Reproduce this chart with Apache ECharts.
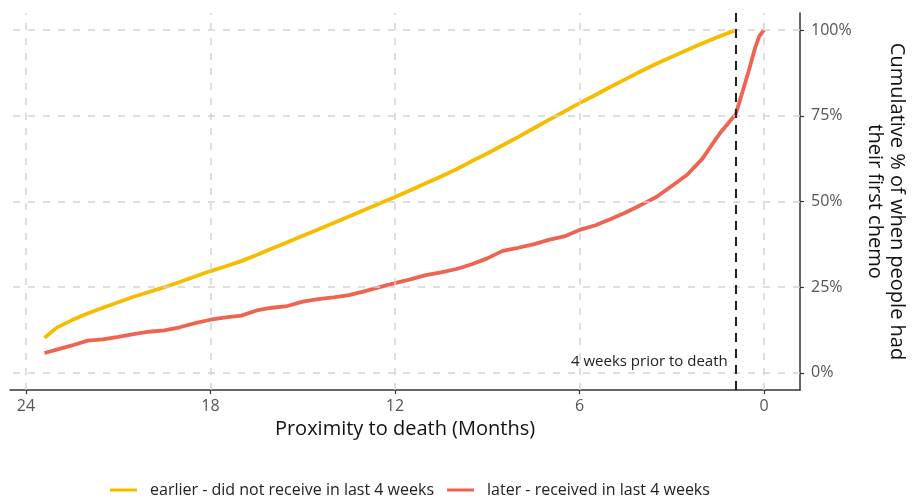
<!DOCTYPE html>
<html>
<head>
<meta charset="utf-8">
<script src="https://cdn.jsdelivr.net/npm/echarts@6/dist/echarts.min.js"></script>
<style>html,body{margin:0;padding:0;background:#fff}#c{width:912px;height:498px}</style>
</head>
<body>
<div id="c"></div>
<script>
var earlierMonths = [23.4,23.0,22.5,22.0,21.5,21.0,20.5,20.0,19.5,19.0,18.5,18.0,17.5,17.0,16.5,16.0,15.5,15.0,14.5,14.0,13.5,13.0,12.5,12.0,11.5,11.0,10.5,10.0,9.5,9.0,8.5,8.0,7.5,7.0,6.5,6.0,5.5,5.0,4.5,4.0,3.5,3.0,2.5,2.0,1.5,0.92];
var earlierPct = [10.2,13.2,15.4,17.3,19.0,20.6,22.2,23.6,25.0,26.5,28.1,29.7,31.1,32.6,34.4,36.3,38.1,40.0,41.8,43.7,45.6,47.5,49.4,51.3,53.3,55.3,57.3,59.4,61.8,64.0,66.4,68.8,71.3,73.8,76.2,78.7,81.0,83.4,85.7,88.0,90.2,92.2,94.2,96.2,98.0,100];
var laterMonths = [23.4,23.0,22.5,22.0,21.5,21.0,20.5,20.0,19.5,19.0,18.5,18.0,17.5,17.0,16.5,16.0,15.5,15.0,14.5,14.0,13.5,13.0,12.5,12.0,11.5,11.0,10.5,10.0,9.5,9.0,8.5,8.0,7.5,7.0,6.5,6.0,5.5,5.0,4.5,4.0,3.5,3.0,2.5,2.0,1.7,1.4,1.15,0.92,0.7,0.5,0.3,0.15,0.0];
var laterPct = [5.8,6.8,8.0,9.4,9.8,10.5,11.3,12.0,12.4,13.3,14.5,15.5,16.2,16.7,18.2,19.0,19.5,20.8,21.5,22.0,22.7,23.8,25.0,26.2,27.3,28.5,29.3,30.3,31.7,33.4,35.6,36.5,37.5,38.8,39.8,41.7,43.0,44.8,46.8,49.0,51.3,54.5,57.8,62.5,66.5,70.3,73.0,75.5,82.0,88.0,94.5,98.3,100];
var xTicks = [24,18,12,6,0];
var yTicks = [0,25,50,75,100];
var cutoffMonths = 0.92;
var cutoffLabel = '4 weeks prior to death';
var seriesNames = ['earlier - did not receive in last 4 weeks','later - received in last 4 weeks'];

function pairs(xs, ys){ return xs.map(function(x,i){ return [x, ys[i]]; }); }

var FONT = '"Open Sans", "Noto Sans", sans-serif';
var gridStyle = {color:'#d4d4d4', width:1.5, type:[7,8]};
var gridLines = xTicks.map(function(v){ return {xAxis:v}; }).concat(yTicks.map(function(v){ return {yAxis:v}; }));

var chart = echarts.init(document.getElementById('c'));
chart.setOption({
  animation:false,
  backgroundColor:'#fff',
  grid:{left:10, right:112, top:13, bottom:108, containLabel:false, outerBoundsMode:'none'},
  xAxis:{
    type:'value', inverse:true, min:-1.17, max:24.52,
    name:'Proximity to death (Months)', nameLocation:'middle', nameGap:27,
    nameTextStyle:{fontFamily:FONT, fontSize:20, color:'#111'},
    axisLine:{show:true, onZero:false, lineStyle:{color:'#333', width:1.5}},
    axisTick:{show:true, length:4, customValues:xTicks, lineStyle:{color:'#333', width:1.2}},
    axisLabel:{customValues:xTicks, fontFamily:FONT, fontSize:16, color:'#555', margin:8},
    splitLine:{show:false}
  },
  yAxis:{
    type:'value', position:'right', min:-5, max:105,
    name:'Cumulative % of when people had\ntheir first chemo', nameLocation:'middle', nameRotate:-90, nameGap:64,
    nameTextStyle:{fontFamily:FONT, fontSize:20, color:'#111', lineHeight:22},
    axisLine:{show:true, onZero:false, lineStyle:{color:'#333', width:1.5}},
    axisTick:{show:true, length:4, customValues:yTicks, lineStyle:{color:'#333', width:1.2}},
    axisLabel:{customValues:yTicks, formatter:'{value}%', fontFamily:FONT, fontSize:16, color:'#555', margin:11},
    splitLine:{show:false}
  },
  legend:{
    top:477, left:105, itemGap:13, itemWidth:27, itemHeight:3, icon:'rect',
    textStyle:{fontFamily:FONT, fontSize:16, color:'#222', padding:[0,0,0,8]},
    data:seriesNames
  },
  series:[
    {type:'line', name:'grid', data:[], z:1, silent:true,
     markLine:{silent:true, symbol:'none', label:{show:false}, lineStyle:gridStyle, data:gridLines}},
    {type:'line', name:seriesNames[0], data:pairs(earlierMonths, earlierPct), showSymbol:false, z:3,
     color:'#F6BC00', lineStyle:{width:3.8, color:'#F6BC00'}},
    {type:'line', name:seriesNames[1], data:pairs(laterMonths, laterPct), showSymbol:false, z:3,
     color:'#EE6352', lineStyle:{width:3.8, color:'#EE6352'}},
    {type:'line', name:'cutoff', data:[], z:5, silent:true,
     markLine:{silent:true, symbol:'none', label:{show:false}, lineStyle:{color:'#222', width:2, type:[9,7]}, data:[{xAxis:cutoffMonths}]},
     markPoint:{silent:true, symbol:'circle', symbolSize:0,
       label:{show:true, position:'left', distance:8, formatter:cutoffLabel, fontFamily:FONT, fontSize:15, color:'#222'},
       data:[{coord:[cutoffMonths, 3.2]}]}}
  ]
});
</script>
</body>
</html>
